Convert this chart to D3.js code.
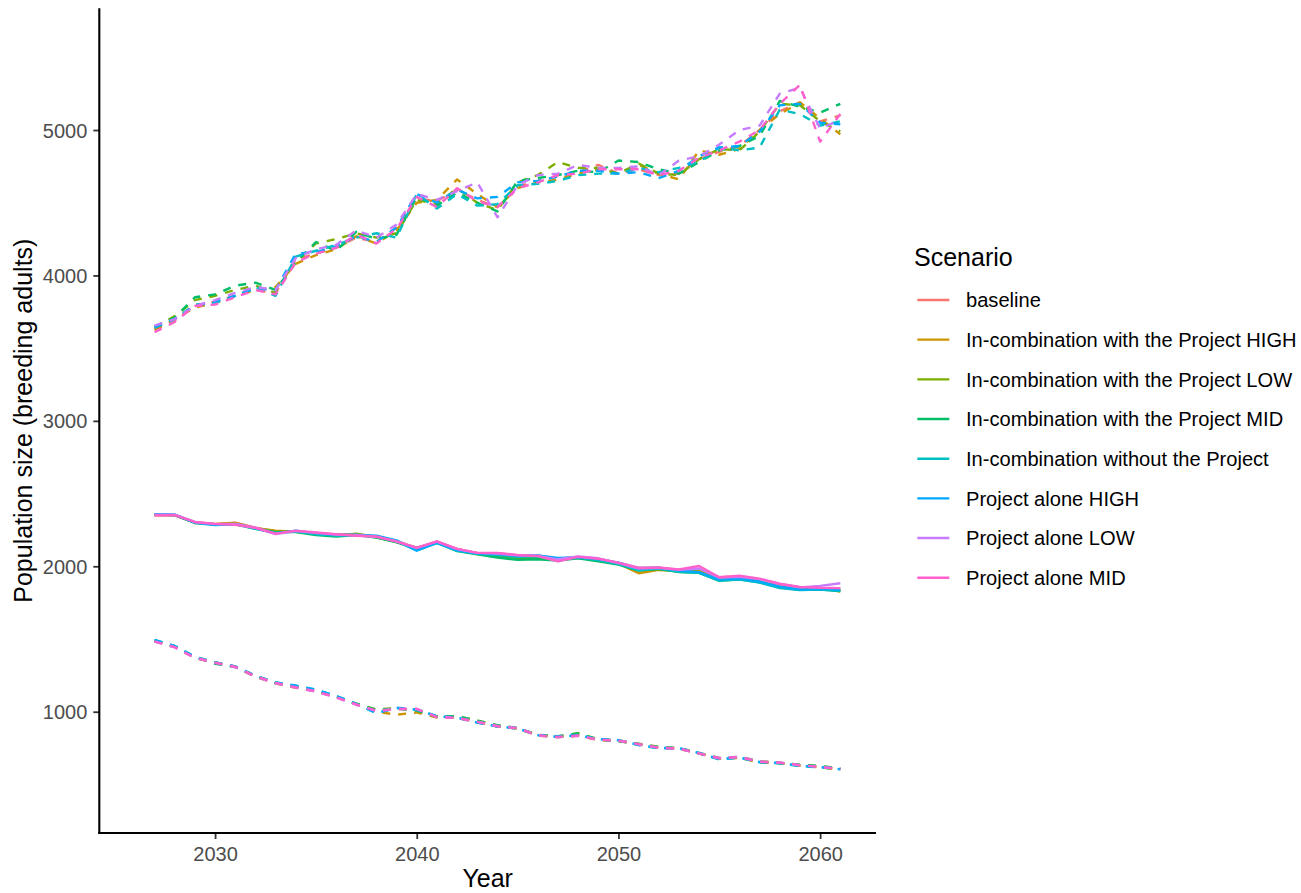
<!DOCTYPE html>
<html>
<head>
<meta charset="utf-8">
<script src="https://cdn.jsdelivr.net/npm/d3@7"></script>
<style>
  html, body { margin: 0; padding: 0; background: #ffffff; }
  svg { display: block; font-family: "Liberation Sans", Arial, sans-serif; }
</style>
</head>
<body>
<svg id="chart" width="1301" height="893"></svg>
<script>
// Simulation years
const years = [2027,2028,2029,2030,2031,2032,2033,2034,2035,2036,2037,2038,2039,2040,2041,2042,2043,2044,
  2045,2046,2047,2048,2049,2050,2051,2052,2053,2054,2055,2056,2057,2058,2059,2060,2061];

const scenarios = [
  "baseline",
  "In-combination with the Project HIGH",
  "In-combination with the Project LOW",
  "In-combination with the Project MID",
  "In-combination without the Project",
  "Project alone HIGH",
  "Project alone LOW",
  "Project alone MID"
];

const scenarioColors = ["#F8766D", "#CD9600", "#7CAE00", "#00BE67", "#00BFC4", "#00A9FF", "#C77CFF", "#FF61CC"];

const yTicks = [1000, 2000, 3000, 4000, 5000];
const xTicks = [2030, 2040, 2050, 2060];

// Upper bound of projected population (dashed)
const upperBaseline = [3625,3690,3790,3820,3860,3900,3880,4110,4150,4190,4260,4230,4330,4530,4510,4590,4520,4470,4610,4650,4680,4710,4760,4700,4730,4690,4700,4800,4850,4890,5000,5130,5190,5060,5100];
const upperHigh     = [3630,3700,3780,3810,3860,3900,3920,4080,4140,4180,4270,4220,4310,4500,4520,4660,4560,4470,4600,4640,4660,4700,4730,4700,4760,4700,4660,4860,4830,4870,5000,5110,5190,5080,4970];
const upperLow      = [3640,3720,3830,3860,3900,3930,3880,4090,4220,4250,4290,4260,4290,4520,4490,4600,4500,4450,4640,4690,4780,4740,4740,4700,4770,4700,4690,4800,4870,4860,4990,5180,5170,5060,4990];
const upperMid      = [3650,3710,3850,3870,3930,3950,3900,4090,4230,4170,4300,4250,4280,4540,4480,4570,4500,4440,4650,4670,4690,4720,4710,4790,4780,4730,4700,4780,4860,4890,4960,5200,5160,5120,5180];
const upperWithout  = [3640,3700,3800,3810,3860,3920,3860,4130,4170,4210,4260,4290,4260,4560,4460,4560,4480,4490,4620,4630,4650,4690,4700,4700,4740,4710,4740,4780,4880,4860,4880,5140,5110,5030,5060];
const upperPAHigh   = [3645,3700,3790,3820,3860,3910,3900,4150,4160,4200,4270,4230,4330,4560,4500,4590,4530,4540,4640,4650,4680,4720,4720,4700,4710,4670,4720,4820,4880,4890,4990,5170,5180,5050,5040];
const upperPALow    = [3655,3700,3790,3830,3880,3920,3900,4120,4180,4210,4310,4260,4350,4560,4520,4580,4640,4400,4620,4690,4700,4760,4740,4740,4750,4690,4790,4820,4900,5000,5030,5250,5290,5010,5070];
const upperPAMid    = [3610,3680,3790,3800,3850,3900,3870,4090,4150,4190,4280,4220,4320,4540,4470,4600,4510,4470,4600,4640,4690,4700,4730,4730,4730,4690,4720,4810,4860,4920,5000,5180,5310,4920,5110];

// Median projected population (solid)
const medianBaseline = [2350,2350,2300,2292,2300,2265,2240,2240,2230,2218,2220,2205,2175,2125,2170,2120,2090,2090,2075,2075,2050,2065,2050,2020,1980,1985,1975,1975,1925,1930,1910,1875,1855,1850,1850];
const medianHigh     = [2352,2352,2298,2290,2298,2262,2245,2238,2225,2215,2218,2200,2168,2128,2165,2115,2085,2080,2068,2068,2048,2060,2045,2018,1952,1975,1968,1972,1912,1920,1900,1868,1845,1850,1826];
const medianLow      = [2355,2353,2300,2290,2292,2262,2238,2240,2222,2210,2225,2200,2168,2125,2168,2110,2088,2070,2058,2060,2045,2058,2040,2015,1975,1980,1968,1960,1905,1915,1895,1862,1845,1848,1835];
const medianMid      = [2355,2352,2302,2288,2290,2258,2235,2236,2215,2205,2215,2198,2165,2120,2162,2105,2082,2060,2045,2048,2040,2055,2035,2012,1970,1982,1960,1955,1900,1910,1890,1855,1838,1840,1830];
const medianWithout  = [2356,2353,2298,2283,2288,2258,2228,2240,2220,2212,2215,2206,2172,2110,2160,2108,2086,2078,2065,2068,2042,2060,2042,2016,1972,1984,1962,1955,1902,1908,1888,1850,1836,1840,1832];
const medianPAHigh   = [2358,2355,2300,2285,2290,2262,2226,2245,2228,2215,2215,2210,2178,2108,2162,2110,2090,2085,2072,2075,2058,2062,2050,2025,1988,1990,1972,1960,1908,1915,1895,1860,1840,1845,1838];
const medianPALow    = [2354,2355,2305,2290,2292,2265,2222,2242,2230,2218,2215,2202,2172,2125,2170,2118,2092,2088,2075,2072,2048,2068,2055,2022,1985,1990,1975,1985,1922,1928,1912,1878,1855,1865,1883];
const medianPAMid    = [2350,2352,2305,2292,2285,2265,2225,2245,2232,2220,2210,2205,2170,2128,2172,2120,2092,2092,2078,2070,2034,2065,2052,2025,1990,1992,1978,2002,1925,1935,1915,1880,1858,1852,1850];

// Lower bound of projected population (dashed)
const lowerBaseline = [1485,1445,1372,1335,1310,1243,1197,1170,1140,1100,1050,1008,1020,1012,966,960,930,900,885,838,826,836,808,800,776,752,746,712,680,684,654,648,630,620,605];
const lowerHigh     = [1486,1446,1370,1334,1307,1240,1194,1165,1142,1102,1050,1000,980,995,960,958,928,898,884,836,825,835,805,798,775,754,745,712,678,682,652,645,628,618,600];
const lowerLow      = [1488,1448,1375,1338,1310,1246,1200,1172,1145,1104,1055,1015,1025,1010,968,968,940,905,888,842,830,852,812,802,780,758,750,716,682,690,660,650,634,625,612];
const lowerMid      = [1490,1450,1376,1330,1308,1244,1198,1170,1146,1106,1056,1012,1022,1008,965,970,938,908,887,840,832,850,808,798,778,756,748,714,680,688,656,646,636,626,610];
const lowerWithout  = [1492,1452,1378,1340,1312,1248,1202,1178,1150,1108,1052,992,1024,1015,970,958,925,900,884,838,826,838,812,804,770,748,748,715,672,684,652,646,626,618,604];
const lowerPAHigh   = [1494,1451,1376,1339,1311,1247,1201,1180,1152,1108,1054,990,1028,1014,968,960,926,898,886,840,828,838,812,805,772,750,750,716,674,686,654,648,628,620,605];
const lowerPALow    = [1482,1442,1370,1336,1306,1242,1196,1166,1138,1098,1048,1005,1020,1018,964,958,932,902,888,836,826,834,808,802,776,752,746,712,682,690,658,650,632,622,608];
const lowerPAMid    = [1484,1444,1371,1337,1309,1244,1198,1168,1140,1100,1050,1006,1018,1020,962,957,930,900,886,838,825,836,808,801,777,753,747,713,680,688,656,650,633,620,606];

const upperSeries  = [upperBaseline, upperHigh, upperLow, upperMid, upperWithout, upperPAHigh, upperPALow, upperPAMid];
const medianSeries = [medianBaseline, medianHigh, medianLow, medianMid, medianWithout, medianPAHigh, medianPALow, medianPAMid];
const lowerSeries  = [lowerBaseline, lowerHigh, lowerLow, lowerMid, lowerWithout, lowerPAHigh, lowerPALow, lowerPAMid];

// ---- layout ----
const panel = { left: 99.3, right: 876, top: 8.3, bottom: 833 };

const x = d3.scaleLinear().domain([2024.26, 2062.77]).range([panel.left, panel.right]);
const y = d3.scaleLinear().domain([166, 5837]).range([panel.bottom, panel.top]);
const color = d3.scaleOrdinal().domain(scenarios).range(scenarioColors);

const svg = d3.select("#chart");

const line = d3.line()
  .x((d, i) => x(years[i]))
  .y(d => y(d));

const plot = svg.append("g").attr("class", "lines");

function drawLayer(seriesList, dashed, cls) {
  plot.append("g").attr("class", cls)
    .selectAll("path")
    .data(seriesList.map((vals, k) => ({ name: scenarios[k], vals })))
    .join("path")
    .attr("d", d => line(d.vals))
    .attr("fill", "none")
    .attr("stroke", d => color(d.name))
    .attr("stroke-width", 2.4)
    .attr("stroke-linejoin", "round")
    .attr("stroke-dasharray", dashed ? "8,8" : null);
}

drawLayer(medianSeries, false, "median");
drawLayer(lowerSeries, true, "lower");
drawLayer(upperSeries, true, "upper");

// ---- axes ----
const xAxis = svg.append("g")
  .attr("transform", `translate(0,${panel.bottom})`)
  .call(d3.axisBottom(x).tickValues(xTicks).tickFormat(d3.format("d")).tickSize(6).tickPadding(5));
const yAxis = svg.append("g")
  .attr("transform", `translate(${panel.left},0)`)
  .call(d3.axisLeft(y).tickValues(yTicks).tickFormat(d3.format("d")).tickSize(6).tickPadding(5));

[xAxis, yAxis].forEach(ax => {
  ax.select(".domain").remove();
  ax.selectAll(".tick line").attr("stroke", "#333333").attr("stroke-width", 1.8);
  ax.selectAll(".tick text")
    .attr("fill", "#4D4D4D")
    .style("font-size", "20px")
    .style("font-family", "'Liberation Sans', Arial, sans-serif");
});
xAxis.selectAll(".tick text").attr("dy", null).attr("y", 28);
yAxis.selectAll(".tick text").attr("dy", null).attr("x", -12).attr("y", 7);

// axis lines
svg.append("line")
  .attr("x1", panel.left).attr("x2", panel.left)
  .attr("y1", panel.top).attr("y2", panel.bottom + 1)
  .attr("stroke", "#000").attr("stroke-width", 2.1);
svg.append("line")
  .attr("x1", panel.left - 1).attr("x2", panel.right)
  .attr("y1", panel.bottom).attr("y2", panel.bottom)
  .attr("stroke", "#000").attr("stroke-width", 2.1);

// axis titles
svg.append("text")
  .attr("x", (panel.left + panel.right) / 2)
  .attr("y", 886.5)
  .attr("text-anchor", "middle")
  .style("font-size", "25px")
  .attr("fill", "#000")
  .text("Year");

svg.append("text")
  .attr("transform", `translate(32,${(panel.top + panel.bottom) / 2}) rotate(-90)`)
  .attr("text-anchor", "middle")
  .style("font-size", "25px")
  .attr("fill", "#000")
  .text("Population size (breeding adults)");

// ---- legend ----
const legend = svg.append("g").attr("transform", "translate(914,0)");
legend.append("text")
  .attr("x", 0).attr("y", 265.5)
  .style("font-size", "25px")
  .attr("fill", "#000")
  .text("Scenario");

const items = legend.selectAll("g.item")
  .data(scenarios)
  .join("g")
  .attr("class", "item")
  .attr("transform", (d, i) => `translate(0,${300 + i * 39.67})`);

items.append("line")
  .attr("x1", 3.3).attr("x2", 35.3)
  .attr("y1", 0).attr("y2", 0)
  .attr("stroke", d => color(d))
  .attr("stroke-width", 2.4);

items.append("text")
  .attr("x", 52).attr("y", 7.3)
  .style("font-size", "20.1px")
  .attr("fill", "#000")
  .text(d => d);
</script>
</body>
</html>
